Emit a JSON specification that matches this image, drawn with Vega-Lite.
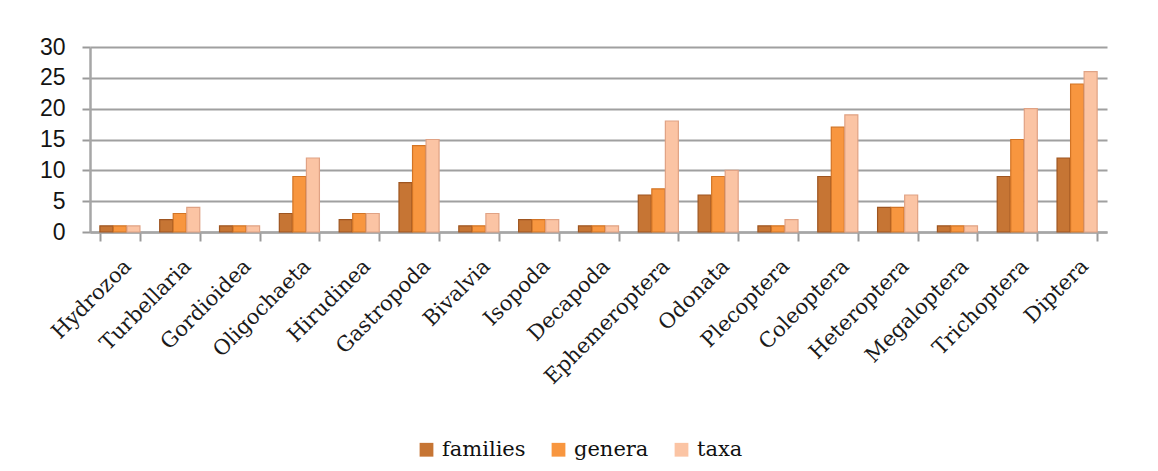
{
  "$schema": "https://vega.github.io/schema/vega-lite/v6.json",
  "autosize": {"type": "none"},
  "width": 1017,
  "height": 185,
  "padding": {"left": 90, "top": 47, "right": 51, "bottom": 239},
  "background": "#ffffff",
  "config": {
    "view": {"stroke": null},
    "axis": {"labelColor": "#111111", "titleColor": "#111111"},
    "legend": {"labelFont": "DejaVu Serif", "labelFontSize": 21, "labelColor": "#111111"}
  },
  "data": {
    "values": [
      {"group": "Hydrozoa", "series": "families", "count": 1},
      {"group": "Hydrozoa", "series": "genera", "count": 1},
      {"group": "Hydrozoa", "series": "taxa", "count": 1},
      {"group": "Turbellaria", "series": "families", "count": 2},
      {"group": "Turbellaria", "series": "genera", "count": 3},
      {"group": "Turbellaria", "series": "taxa", "count": 4},
      {"group": "Gordioidea", "series": "families", "count": 1},
      {"group": "Gordioidea", "series": "genera", "count": 1},
      {"group": "Gordioidea", "series": "taxa", "count": 1},
      {"group": "Oligochaeta", "series": "families", "count": 3},
      {"group": "Oligochaeta", "series": "genera", "count": 9},
      {"group": "Oligochaeta", "series": "taxa", "count": 12},
      {"group": "Hirudinea", "series": "families", "count": 2},
      {"group": "Hirudinea", "series": "genera", "count": 3},
      {"group": "Hirudinea", "series": "taxa", "count": 3},
      {"group": "Gastropoda", "series": "families", "count": 8},
      {"group": "Gastropoda", "series": "genera", "count": 14},
      {"group": "Gastropoda", "series": "taxa", "count": 15},
      {"group": "Bivalvia", "series": "families", "count": 1},
      {"group": "Bivalvia", "series": "genera", "count": 1},
      {"group": "Bivalvia", "series": "taxa", "count": 3},
      {"group": "Isopoda", "series": "families", "count": 2},
      {"group": "Isopoda", "series": "genera", "count": 2},
      {"group": "Isopoda", "series": "taxa", "count": 2},
      {"group": "Decapoda", "series": "families", "count": 1},
      {"group": "Decapoda", "series": "genera", "count": 1},
      {"group": "Decapoda", "series": "taxa", "count": 1},
      {"group": "Ephemeroptera", "series": "families", "count": 6},
      {"group": "Ephemeroptera", "series": "genera", "count": 7},
      {"group": "Ephemeroptera", "series": "taxa", "count": 18},
      {"group": "Odonata", "series": "families", "count": 6},
      {"group": "Odonata", "series": "genera", "count": 9},
      {"group": "Odonata", "series": "taxa", "count": 10},
      {"group": "Plecoptera", "series": "families", "count": 1},
      {"group": "Plecoptera", "series": "genera", "count": 1},
      {"group": "Plecoptera", "series": "taxa", "count": 2},
      {"group": "Coleoptera", "series": "families", "count": 9},
      {"group": "Coleoptera", "series": "genera", "count": 17},
      {"group": "Coleoptera", "series": "taxa", "count": 19},
      {"group": "Heteroptera", "series": "families", "count": 4},
      {"group": "Heteroptera", "series": "genera", "count": 4},
      {"group": "Heteroptera", "series": "taxa", "count": 6},
      {"group": "Megaloptera", "series": "families", "count": 1},
      {"group": "Megaloptera", "series": "genera", "count": 1},
      {"group": "Megaloptera", "series": "taxa", "count": 1},
      {"group": "Trichoptera", "series": "families", "count": 9},
      {"group": "Trichoptera", "series": "genera", "count": 15},
      {"group": "Trichoptera", "series": "taxa", "count": 20},
      {"group": "Diptera", "series": "families", "count": 12},
      {"group": "Diptera", "series": "genera", "count": 24},
      {"group": "Diptera", "series": "taxa", "count": 26}
    ]
  },
  "mark": {"type": "bar", "strokeWidth": 1.2},
  "encoding": {
    "x": {
      "field": "group",
      "type": "nominal",
      "sort": null,
      "title": null,
      "scale": {"paddingInner": 0.33, "paddingOuter": 0.165},
      "axis": {
        "labelAngle": -45,
        "labelAlign": "right",
        "labelBaseline": "top",
        "labelFont": "DejaVu Serif",
        "labelFontSize": 21,
        "labelColor": "#1a1a1a",
        "labelPadding": 14,
        "tickBand": "extent",
        "tickSize": 9,
        "tickColor": "#9a9a9a",
        "tickWidth": 2,
        "domainColor": "#a6a6a6",
        "domainWidth": 2.5,
        "grid": false
      }
    },
    "xOffset": {
      "field": "series",
      "type": "nominal",
      "scale": {"paddingInner": 0.04}
    },
    "y": {
      "field": "count",
      "type": "quantitative",
      "title": null,
      "scale": {"domain": [0, 30]},
      "axis": {
        "values": [0, 5, 10, 15, 20, 25, 30],
        "labelFont": "Liberation Sans",
        "labelFontSize": 23,
        "labelColor": "#141414",
        "labelPadding": 17,
        "tickSize": 8,
        "tickColor": "#9a9a9a",
        "tickWidth": 2,
        "domainColor": "#a6a6a6",
        "domainWidth": 2.5,
        "gridColor": "#a0a0a0",
        "gridWidth": 2
      }
    },
    "color": {
      "field": "series",
      "type": "nominal",
      "title": null,
      "scale": {
        "domain": ["families", "genera", "taxa"],
        "range": ["#c67534", "#f8963f", "#fbc4a4"]
      },
      "legend": {
        "orient": "none",
        "direction": "horizontal",
        "legendX": 326,
        "legendY": 392,
        "symbolType": "square",
        "symbolSize": 190,
        "symbolStrokeWidth": 0,
        "labelFont": "DejaVu Serif",
        "labelFontSize": 21,
        "labelColor": "#111111",
        "labelOffset": 5,
        "columnPadding": 22
      }
    },
    "stroke": {
      "field": "series",
      "type": "nominal",
      "scale": {
        "domain": ["families", "genera", "taxa"],
        "range": ["#9e5520", "#d27425", "#e0a284"]
      },
      "legend": null
    }
  }
}
